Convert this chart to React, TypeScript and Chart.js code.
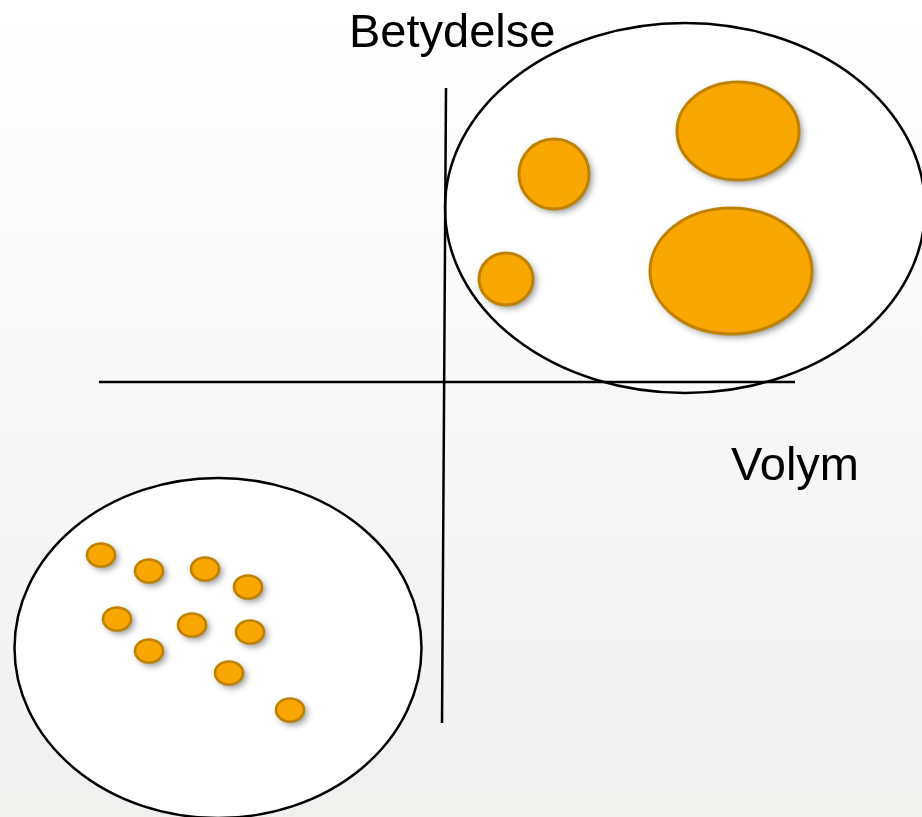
import React, { useEffect, useRef } from "react";
import { Chart, registerables } from "chart.js";

Chart.register(...registerables);

// Coordinate space: origin at the axis cross, 1 unit = 100px
const X_MIN = -4.44;
const X_MAX = 4.78;
const Y_MIN = -4.35;
const Y_MAX = 3.82;

// Group ellipses (white, outlined)
const groupX = [2.41, -2.26];
const groupY = [1.74, -2.66];
const groupRx = [2.4, 2.035];
const groupRy = [1.85, 1.7];

// Large items (upper right)
const bigX = [1.1, 0.62, 2.94, 2.87];
const bigY = [2.08, 1.03, 2.51, 1.11];
const bigRx = [0.35, 0.27, 0.61, 0.81];
const bigRy = [0.35, 0.26, 0.49, 0.63];

// Small items (lower left)
const smallX = [-3.43, -2.95, -2.39, -1.96, -3.27, -2.52, -1.94, -2.95, -2.15, -1.54];
const smallY = [-1.73, -1.89, -1.87, -2.05, -2.37, -2.43, -2.5, -2.69, -2.91, -3.28];
const smallRx = 0.14;
const smallRy = 0.115;

// Axis lines
const hAxisX = [-3.45, 3.51];
const hAxisY = [0, 0];
const vAxisX = [0.02, -0.02];
const vAxisY = [2.94, -3.41];

// Labels
const labelText = ["Betydelse", "Volym"];
const labelX = [-0.95, 2.87];
const labelY = [3.35, -0.98];

const ORANGE = "#F9A700";
const ORANGE_EDGE = "#BF8200";

export default function App() {
  const canvasRef = useRef<HTMLCanvasElement | null>(null);

  useEffect(() => {
    document.body.style.margin = "0";
    const canvas = canvasRef.current;
    if (!canvas) return;

    const ellipse = (chart: any, cx: number, cy: number, rx: number, ry: number) => {
      const xs = chart.scales.x;
      const ys = chart.scales.y;
      const px = xs.getPixelForValue(cx);
      const py = ys.getPixelForValue(cy);
      const prx = Math.abs(xs.getPixelForValue(cx + rx) - px);
      const pry = Math.abs(ys.getPixelForValue(cy + ry) - py);
      const ctx = chart.ctx;
      ctx.beginPath();
      ctx.ellipse(px, py, prx, pry, 0, 0, Math.PI * 2);
    };

    const bgPlugin = {
      id: "bg",
      beforeDraw(chart: any) {
        const ctx = chart.ctx;
        const g = ctx.createLinearGradient(0, 0, 0, chart.height);
        g.addColorStop(0, "#ffffff");
        g.addColorStop(1, "#f1f0ef");
        ctx.save();
        ctx.fillStyle = g;
        ctx.fillRect(0, 0, chart.width, chart.height);
        ctx.restore();
      },
      beforeDatasetsDraw(chart: any) {
        const ctx = chart.ctx;
        ctx.save();
        for (let i = 0; i < groupX.length; i++) {
          ellipse(chart, groupX[i], groupY[i], groupRx[i], groupRy[i]);
          ctx.fillStyle = "#ffffff";
          ctx.fill();
          ctx.lineWidth = 2.5;
          ctx.strokeStyle = "#000000";
          ctx.stroke();
        }
        ctx.restore();
      },
      afterDatasetsDraw(chart: any) {
        const ctx = chart.ctx;
        const drawBubble = (x: number, y: number, rx: number, ry: number, lw: number) => {
          ctx.save();
          ctx.shadowColor = "rgba(0,0,0,0.45)";
          ctx.shadowBlur = 7;
          ctx.shadowOffsetX = 3;
          ctx.shadowOffsetY = 3;
          ellipse(chart, x, y, rx, ry);
          ctx.fillStyle = ORANGE;
          ctx.fill();
          ctx.restore();
          ctx.save();
          ellipse(chart, x, y, rx, ry);
          ctx.lineWidth = lw;
          ctx.strokeStyle = ORANGE_EDGE;
          ctx.stroke();
          ctx.restore();
        };
        for (let i = 0; i < bigX.length; i++) drawBubble(bigX[i], bigY[i], bigRx[i], bigRy[i], 3);
        for (let i = 0; i < smallX.length; i++) drawBubble(smallX[i], smallY[i], smallRx, smallRy, 2.6);

        ctx.save();
        ctx.fillStyle = "#000000";
        ctx.font = "47px 'Liberation Sans', Arial, sans-serif";
        ctx.textAlign = "left";
        ctx.textBaseline = "alphabetic";
        for (let i = 0; i < labelText.length; i++) {
          ctx.fillText(
            labelText[i],
            chart.scales.x.getPixelForValue(labelX[i]),
            chart.scales.y.getPixelForValue(labelY[i])
          );
        }
        ctx.restore();
      },
    };

    const chart = new Chart(canvas, {
      type: "scatter",
      data: {
        datasets: [
          {
            data: hAxisX.map((x, i) => ({ x, y: hAxisY[i] })),
            showLine: true,
            borderColor: "#000000",
            borderWidth: 2.5,
            pointRadius: 0,
          },
          {
            data: vAxisX.map((x, i) => ({ x, y: vAxisY[i] })),
            showLine: true,
            borderColor: "#000000",
            borderWidth: 2.5,
            pointRadius: 0,
          },
        ],
      },
      options: {
        animation: false,
        responsive: false,
        maintainAspectRatio: false,
        layout: { padding: 0 },
        plugins: {
          legend: { display: false },
          tooltip: { enabled: false },
        },
        events: [],
        scales: {
          x: { type: "linear", min: X_MIN, max: X_MAX, display: false },
          y: { type: "linear", min: Y_MIN, max: Y_MAX, display: false },
        },
      },
      plugins: [bgPlugin],
    });

    return () => chart.destroy();
  }, []);

  return (
    <div style={{ width: 922, height: 817 }}>
      <canvas ref={canvasRef} width={922} height={817} style={{ display: "block" }} />
    </div>
  );
}
